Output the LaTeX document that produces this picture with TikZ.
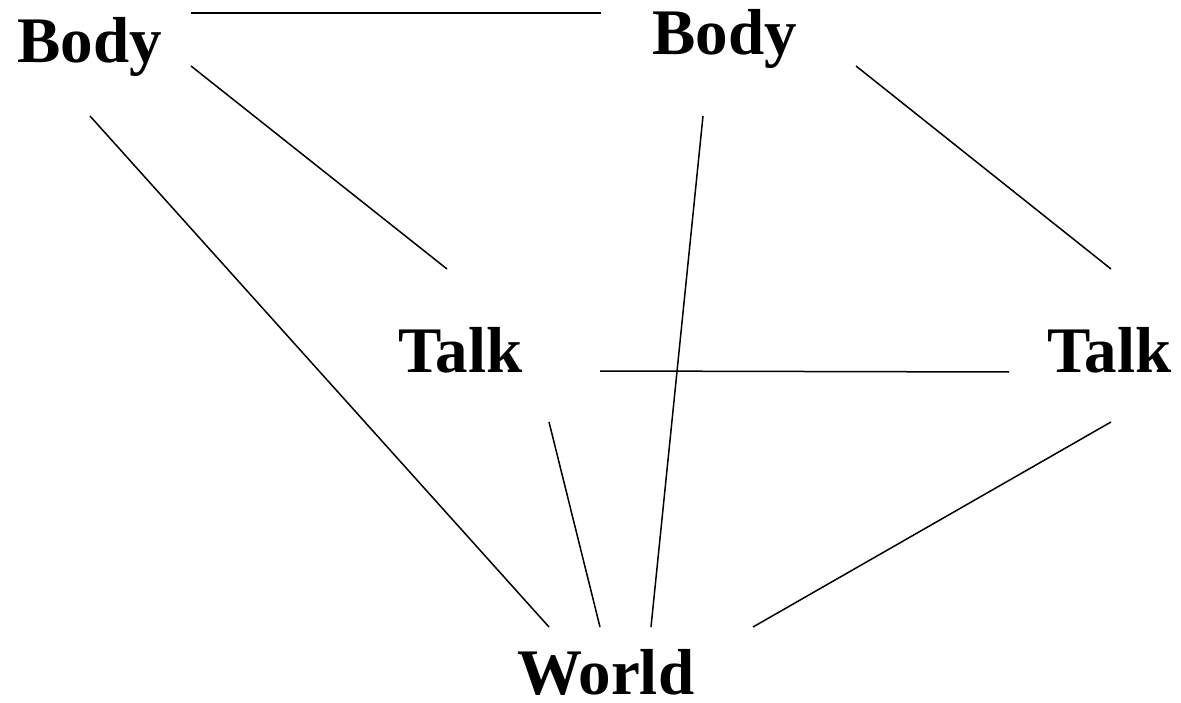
\documentclass[tikz,border=0pt]{standalone}
\usepackage{fontspec}
\setmainfont{Liberation Serif}
\begin{document}
\begin{tikzpicture}[x=1pt,y=-1pt,
  lbl/.style={anchor=base west,inner sep=0pt,font=\fontsize{65}{65}\selectfont\bfseries},
  ln/.style={line width=1.5pt,black}]
\useasboundingbox (0,0) rectangle (1181,703);
\node[lbl] (body1) at (17,63) {Body};
\node[lbl] (body2) at (652,55) {Body};
\node[lbl] (talk1) at (398,372) {Talk};
\node[lbl] (talk2) at (1047,372) {Talk};
\node[lbl] (world) at (517,694) {World};
\coordinate (a1) at (191,13); \coordinate (a2) at (601,13);
\coordinate (b1) at (191,66); \coordinate (b2) at (447,269);
\coordinate (c1) at (90,116); \coordinate (c2) at (549,627);
\coordinate (d1) at (856,66); \coordinate (d2) at (1111,269);
\coordinate (e1) at (703,116); \coordinate (e2) at (651,627);
\coordinate (f1) at (600,371); \coordinate (f2) at (1009,372);
\coordinate (g1) at (549,422); \coordinate (g2) at (600,627);
\coordinate (h1) at (1111,422); \coordinate (h2) at (753,627);
\draw[ln] (a1) -- (a2);
\draw[ln] (b1) -- (b2);
\draw[ln] (c1) -- (c2);
\draw[ln] (d1) -- (d2);
\draw[ln] (e1) -- (e2);
\draw[ln] (f1) -- (f2);
\draw[ln] (g1) -- (g2);
\draw[ln] (h1) -- (h2);
\end{tikzpicture}
\end{document}
